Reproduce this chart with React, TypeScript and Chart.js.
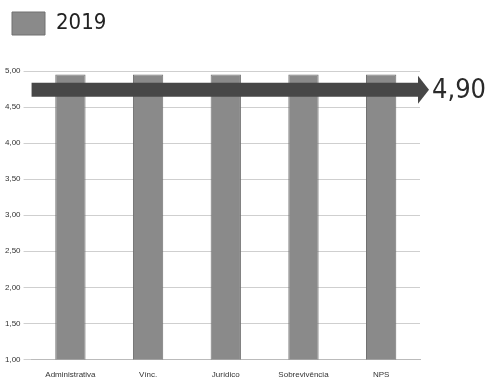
import React, { useEffect, useRef } from "react";
import { Chart, registerables } from "chart.js";

Chart.register(...registerables);

const categories = ["Administrativa", "Vínc.", "Jurídico", "Sobrevivência", "NPS"];
const seriesLabel = "2019";
const values2019 = [4.95, 4.95, 4.95, 4.95, 4.95];
const arrowLevel = 4.74;
const arrowText = "4,90";

const legendSpacer = {
  id: "legendSpacer",
  beforeInit(chart: any) {
    const orig = chart.legend.fit;
    chart.legend.fit = function () {
      orig.bind(chart.legend)();
      this.height += 26;
    };
  },
};

const arrowPlugin = {
  id: "arrowPlugin",
  afterDatasetsDraw(chart: any) {
    const { ctx, chartArea, scales } = chart;
    const y = scales.y.getPixelForValue(arrowLevel);
    const x0 = chartArea.left;
    const x1 = chartArea.right - 2;
    ctx.save();
    ctx.fillStyle = "#474747";
    ctx.fillRect(x0, y - 7, x1 - x0, 14);
    ctx.beginPath();
    ctx.moveTo(x1, y - 14);
    ctx.lineTo(x1 + 11, y);
    ctx.lineTo(x1, y + 14);
    ctx.closePath();
    ctx.fill();
    ctx.fillStyle = "#2a2a2a";
    ctx.font = "27px 'Liberation Sans Narrow', 'DejaVu Sans Condensed', sans-serif";
    ctx.textBaseline = "middle";
    ctx.textAlign = "left";
    ctx.fillText(arrowText, x1 + 14, y + 1);
    ctx.restore();
  },
};

export default function App() {
  const ref = useRef<HTMLCanvasElement | null>(null);
  useEffect(() => {
    if (!ref.current) return;
    const chart = new Chart(ref.current, {
      type: "bar",
      data: {
        labels: categories,
        datasets: [
          {
            label: seriesLabel,
            data: values2019,
            backgroundColor: "#8a8a8a",
            borderColor: "#707070",
            borderWidth: 1,
            barPercentage: 0.39,
            categoryPercentage: 1,
          },
        ],
      },
      options: {
        animation: false,
        responsive: false,
        maintainAspectRatio: false,
        layout: { padding: { left: 0, right: 66, top: 0, bottom: 4 } },
        plugins: {
          legend: {
            align: "start",
            labels: {
              boxWidth: 33,
              boxHeight: 23,
              color: "#222",
              font: { size: 22, family: "'Liberation Sans Narrow', 'DejaVu Sans Condensed', sans-serif" },
              padding: 12,
            },
          },
          tooltip: { enabled: false },
        },
        scales: {
          x: {
            grid: { display: false },
            border: { color: "#bbb" },
            ticks: {
              color: "#333",
              font: { size: 8, family: "'Liberation Sans Narrow', sans-serif" },
              maxRotation: 0,
            },
          },
          y: {
            min: 1,
            max: 5,
            afterFit: (s: any) => {
              s.width += 2;
            },
            ticks: {
              stepSize: 0.5,
              color: "#333",
              font: { size: 8, family: "'Liberation Sans Narrow', sans-serif" },
              callback: (v: any) => Number(v).toFixed(2).replace(".", ","),
            },
            grid: { color: "#cfcfcf" },
            border: { display: false },
          },
        },
      },
      plugins: [legendSpacer, arrowPlugin],
    });
    return () => chart.destroy();
  }, []);
  return (
    <div style={{ position: "fixed", left: 0, top: 0, width: 486, height: 387, background: "#fff" }}>
      <canvas ref={ref} width={486} height={387} />
    </div>
  );
}
